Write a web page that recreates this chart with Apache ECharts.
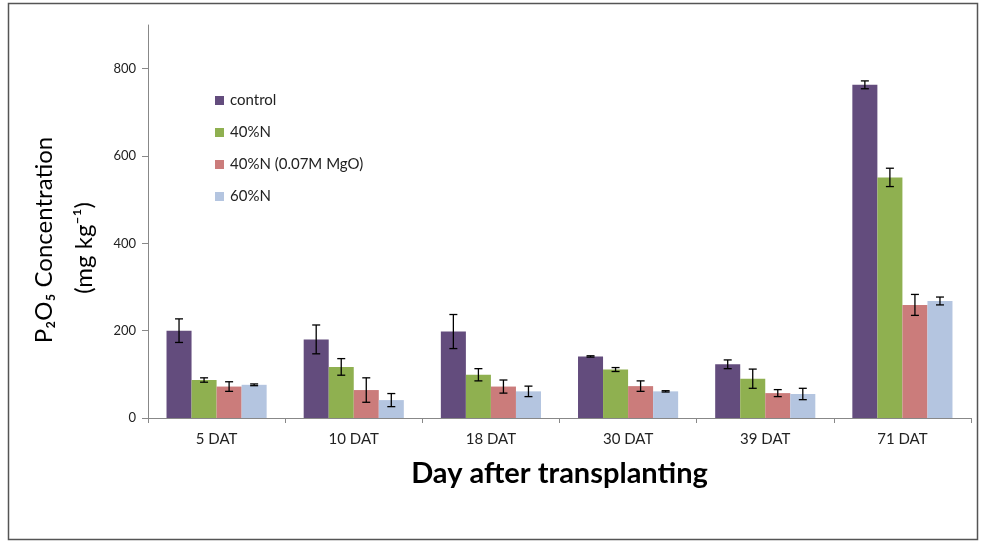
<!DOCTYPE html>
<html>
<head>
<meta charset="utf-8">
<script src="https://cdn.jsdelivr.net/npm/echarts@6/dist/echarts.min.js"></script>
<style>html,body{margin:0;padding:0;background:#fff}#c{width:981px;height:544px}</style>
</head>
<body>
<div id="c"></div>
<script>
var categories = ['5 DAT', '10 DAT', '18 DAT', '30 DAT', '39 DAT', '71 DAT'];
var seriesNames = ['control', '40%N', '40%N (0.07M MgO)', '60%N'];
var controlVals = [200, 180, 198, 141, 123, 763];
var n40Vals = [87, 117, 99, 111, 90, 551];
var n40MgVals = [72, 64, 72, 73, 57, 259];
var n60Vals = [76, 41, 61, 61, 55, 268];
var controlErr = [27, 33, 39, 1.5, 10, 9];
var n40Err = [5, 19, 14, 4.5, 22, 21];
var n40MgErr = [11, 28, 15, 12, 8, 24];
var n60Err = [2, 15, 12, 1.5, 13, 9];
var yTicks = [0, 200, 400, 600, 800];
var yTitle1 = 'P₂O₅ Concentration';
var yTitle2 = '(mg kg⁻¹)';
var xTitle = 'Day after transplanting';

var values = [controlVals, n40Vals, n40MgVals, n60Vals];
var errors = [controlErr, n40Err, n40MgErr, n60Err];
var colors = ['#634C7D', '#8FB050', '#CB7C7B', '#B4C5E0'];
var GAP = 0.27;
var FONT = 'Lato';

var series = [];
values.forEach(function (vals, si) {
  series.push({
    type: 'bar', name: seriesNames[si], data: vals,
    barGap: 0, barCategoryGap: (GAP * 100) + '%',
    itemStyle: { color: colors[si] }, z: 2
  });
});
values.forEach(function (vals, si) {
  series.push({
    type: 'custom', silent: true, z: 10,
    data: categories.map(function (c, i) { return [i, vals[i], errors[si][i]]; }),
    encode: { x: 0, y: 1 },
    renderItem: function (params, api) {
      var ci = api.value(0), v = api.value(1), e = api.value(2);
      var band = api.size([1, 0])[0];
      var bw = band * (1 - GAP) / 4;
      var c = api.coord([ci, v]);
      var x = c[0] + (si - 1.5) * bw;
      var top = api.coord([ci, v + e])[1];
      var bot = api.coord([ci, v - e])[1];
      var hw = 4;
      var st = { stroke: '#000', lineWidth: 1.3 };
      return { type: 'group', children: [
        { type: 'line', shape: { x1: x, y1: top, x2: x, y2: bot }, style: st },
        { type: 'line', shape: { x1: x - hw, y1: top, x2: x + hw, y2: top }, style: st },
        { type: 'line', shape: { x1: x - hw, y1: bot, x2: x + hw, y2: bot }, style: st }
      ]};
    }
  });
});

var chart = echarts.init(document.getElementById('c'), null, { renderer: 'canvas' });
chart.setOption({
  backgroundColor: '#fff',
  animation: false,
  grid: { left: 148, right: 10, top: 25, bottom: 126 },
  legend: {
    data: seriesNames, orient: 'vertical', left: 215, top: 93, padding: 0,
    itemWidth: 9, itemHeight: 9, itemGap: 17, icon: 'rect',
    textStyle: { fontFamily: FONT, fontSize: 15, color: '#222', padding: [0, 0, 0, 1] }
  },
  xAxis: {
    type: 'category', data: categories,
    axisLine: { lineStyle: { color: '#888' } },
    axisTick: { show: true, length: 5, lineStyle: { color: '#888' } },
    axisLabel: { fontFamily: FONT, fontSize: 15, color: '#222', margin: 14 },
    name: xTitle, nameLocation: 'middle', nameGap: 41,
    nameTextStyle: { fontFamily: FONT, fontSize: 29, fontWeight: 'bold', color: '#000' }
  },
  yAxis: {
    type: 'value', min: 0, max: 900, interval: 100,
    splitLine: { show: false },
    axisLine: { show: true, lineStyle: { color: '#888' } },
    axisTick: { show: true, length: 6, customValues: yTicks, lineStyle: { color: '#888' } },
    axisLabel: { customValues: yTicks, fontFamily: FONT, fontSize: 13, color: '#222', margin: 12 }
  },
  graphic: [{
    type: 'rect', silent: true, z: -1,
    shape: { x: 8.5, y: 3.5, width: 969, height: 536 },
    style: { fill: null, stroke: '#555', lineWidth: 1.5 }
  }, {
    type: 'text', silent: true, x: 44, y: 240, rotation: Math.PI / 2,
    style: { text: yTitle1, font: '24px Lato', fill: '#000', align: 'center', verticalAlign: 'middle' }
  }, {
    type: 'text', silent: true, x: 84, y: 248, rotation: Math.PI / 2,
    style: { text: yTitle2, font: '24px Lato', fill: '#000', align: 'center', verticalAlign: 'middle' }
  }],
  series: series
});
</script>
</body>
</html>
